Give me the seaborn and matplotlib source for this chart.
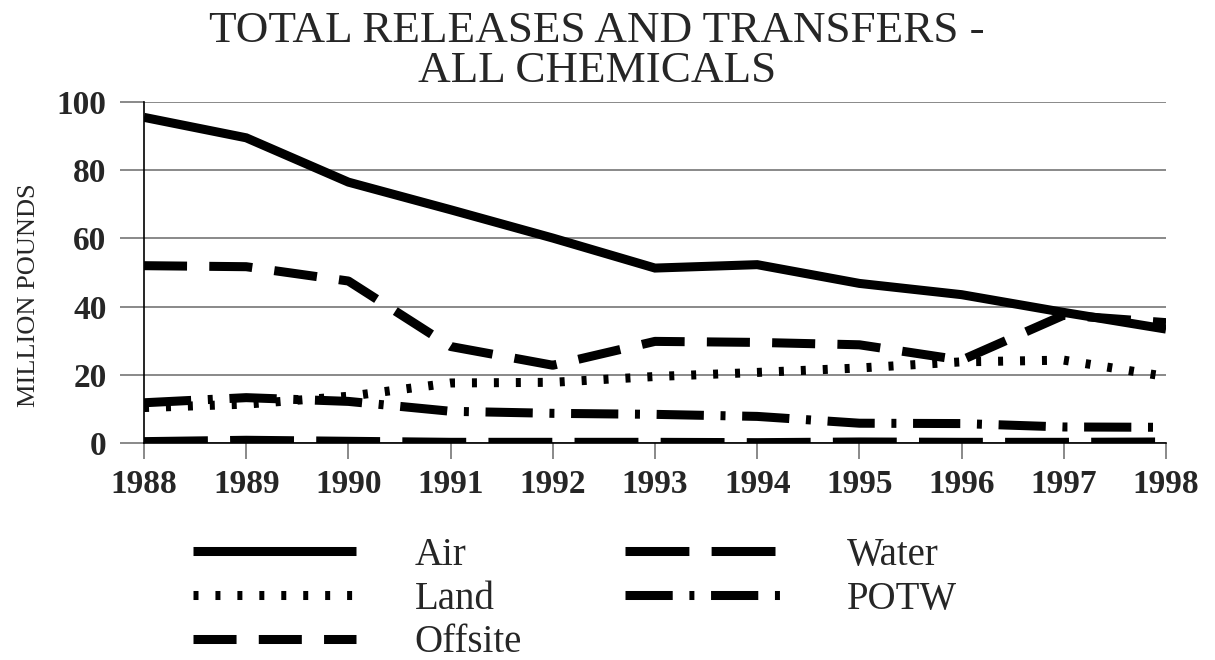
import matplotlib
matplotlib.use("Agg")
import matplotlib.pyplot as plt
import seaborn as sns
import pandas as pd

years = [1988, 1989, 1990, 1991, 1992, 1993, 1994, 1995, 1996, 1997, 1998]
air = [95.5, 89.5, 76.5, 68.4, 60.1, 51.3, 52.3, 46.8, 43.5, 38.3, 33.4]
land = [10.4, 11.4, 13.7, 17.6, 17.8, 19.5, 20.7, 22.0, 23.8, 24.3, 19.5]
offsite = [52.0, 51.7, 47.5, 28.3, 22.8, 29.8, 29.5, 28.8, 24.3, 37.5, 35.3]
water = [0.4, 0.8, 0.5, 0.2, 0.2, 0.2, 0.1, 0.3, 0.2, 0.2, 0.3]
potw = [11.8, 13.3, 12.2, 9.3, 8.7, 8.4, 7.8, 5.8, 5.7, 4.7, 4.6]
series_names = ["Air", "Land", "Offsite", "Water", "POTW"]
yticks = [0, 20, 40, 60, 80, 100]

sns.set_style("white")
plt.rcParams["font.family"] = ["Liberation Serif", "DejaVu Serif"]
plt.rcParams["lines.scale_dashes"] = False

values = {"Air": air, "Land": land, "Offsite": offsite, "Water": water, "POTW": potw}
df = pd.DataFrame(
    [(y, name, v) for name in series_names for y, v in zip(years, values[name])],
    columns=["Year", "Series", "Value"],
)

dash_map = {
    "Air": "",
    "Land": (3.6, 12.2),
    "Offsite": (31, 16),
    "Water": (46, 16),
    "POTW": (34, 12, 3.6, 12),
}

fig = plt.figure(figsize=(12.15, 6.6), dpi=100)
ax = fig.add_axes([144 / 1215, 1 - 443 / 660, (1166 - 144) / 1215, (443 - 102) / 660])

sns.lineplot(
    data=df, x="Year", y="Value", style="Series", style_order=series_names,
    dashes=dash_map, color="black", linewidth=6.5, ax=ax, legend=False,
)
for ln in ax.lines:
    ln.set_dash_capstyle("butt")
    ln.set_solid_capstyle("butt")
    ln.set_solid_joinstyle("miter")

ax.set_xlim(1988, 1998)
ax.set_ylim(0, 100)
ax.set_xticks(years)
ax.set_yticks(yticks)
ax.yaxis.grid(True, color="#6a6a6a", linewidth=1.1)
ax.set_axisbelow(True)
for s in ["top", "right"]:
    ax.spines[s].set_visible(False)
ax.spines["left"].set_color("black")
ax.spines["left"].set_linewidth(1.2)
ax.spines["bottom"].set_color("black")
ax.spines["bottom"].set_linewidth(1.2)
ax.tick_params(axis="y", direction="out", length=17, width=1.1, color="#6a6a6a", pad=10,
               labelsize=24, left=True)
ax.tick_params(axis="x", direction="out", length=11.5, width=1.1, color="#6a6a6a", pad=7,
               labelsize=24, bottom=True)
for lbl in ax.get_xticklabels() + ax.get_yticklabels():
    lbl.set_fontweight("bold")

ax.set_xlabel("")
ax.set_ylabel("MILLION POUNDS", fontsize=19)
ax.yaxis.set_label_coords((40 - 144) / 1022, (443 - 295) / 341)

fig.text(597 / 1215, 1 - 31 / 660, "TOTAL RELEASES AND TRANSFERS -", ha="center", va="center", fontsize=32.5)
fig.text(597 / 1215, 1 - 71 / 660, "ALL CHEMICALS", ha="center", va="center", fontsize=32.5)

fig.legend(
    handles=ax.lines[:5], labels=series_names, ncol=2, loc="upper left",
    bbox_to_anchor=(193 / 1215, 1 - 537 / 660), frameon=False, fontsize=28,
    handlelength=4.2, handletextpad=1.5, columnspacing=2.65, labelspacing=0.17,
    borderpad=0, borderaxespad=0,
)

fig.savefig("out.png", dpi=100)
